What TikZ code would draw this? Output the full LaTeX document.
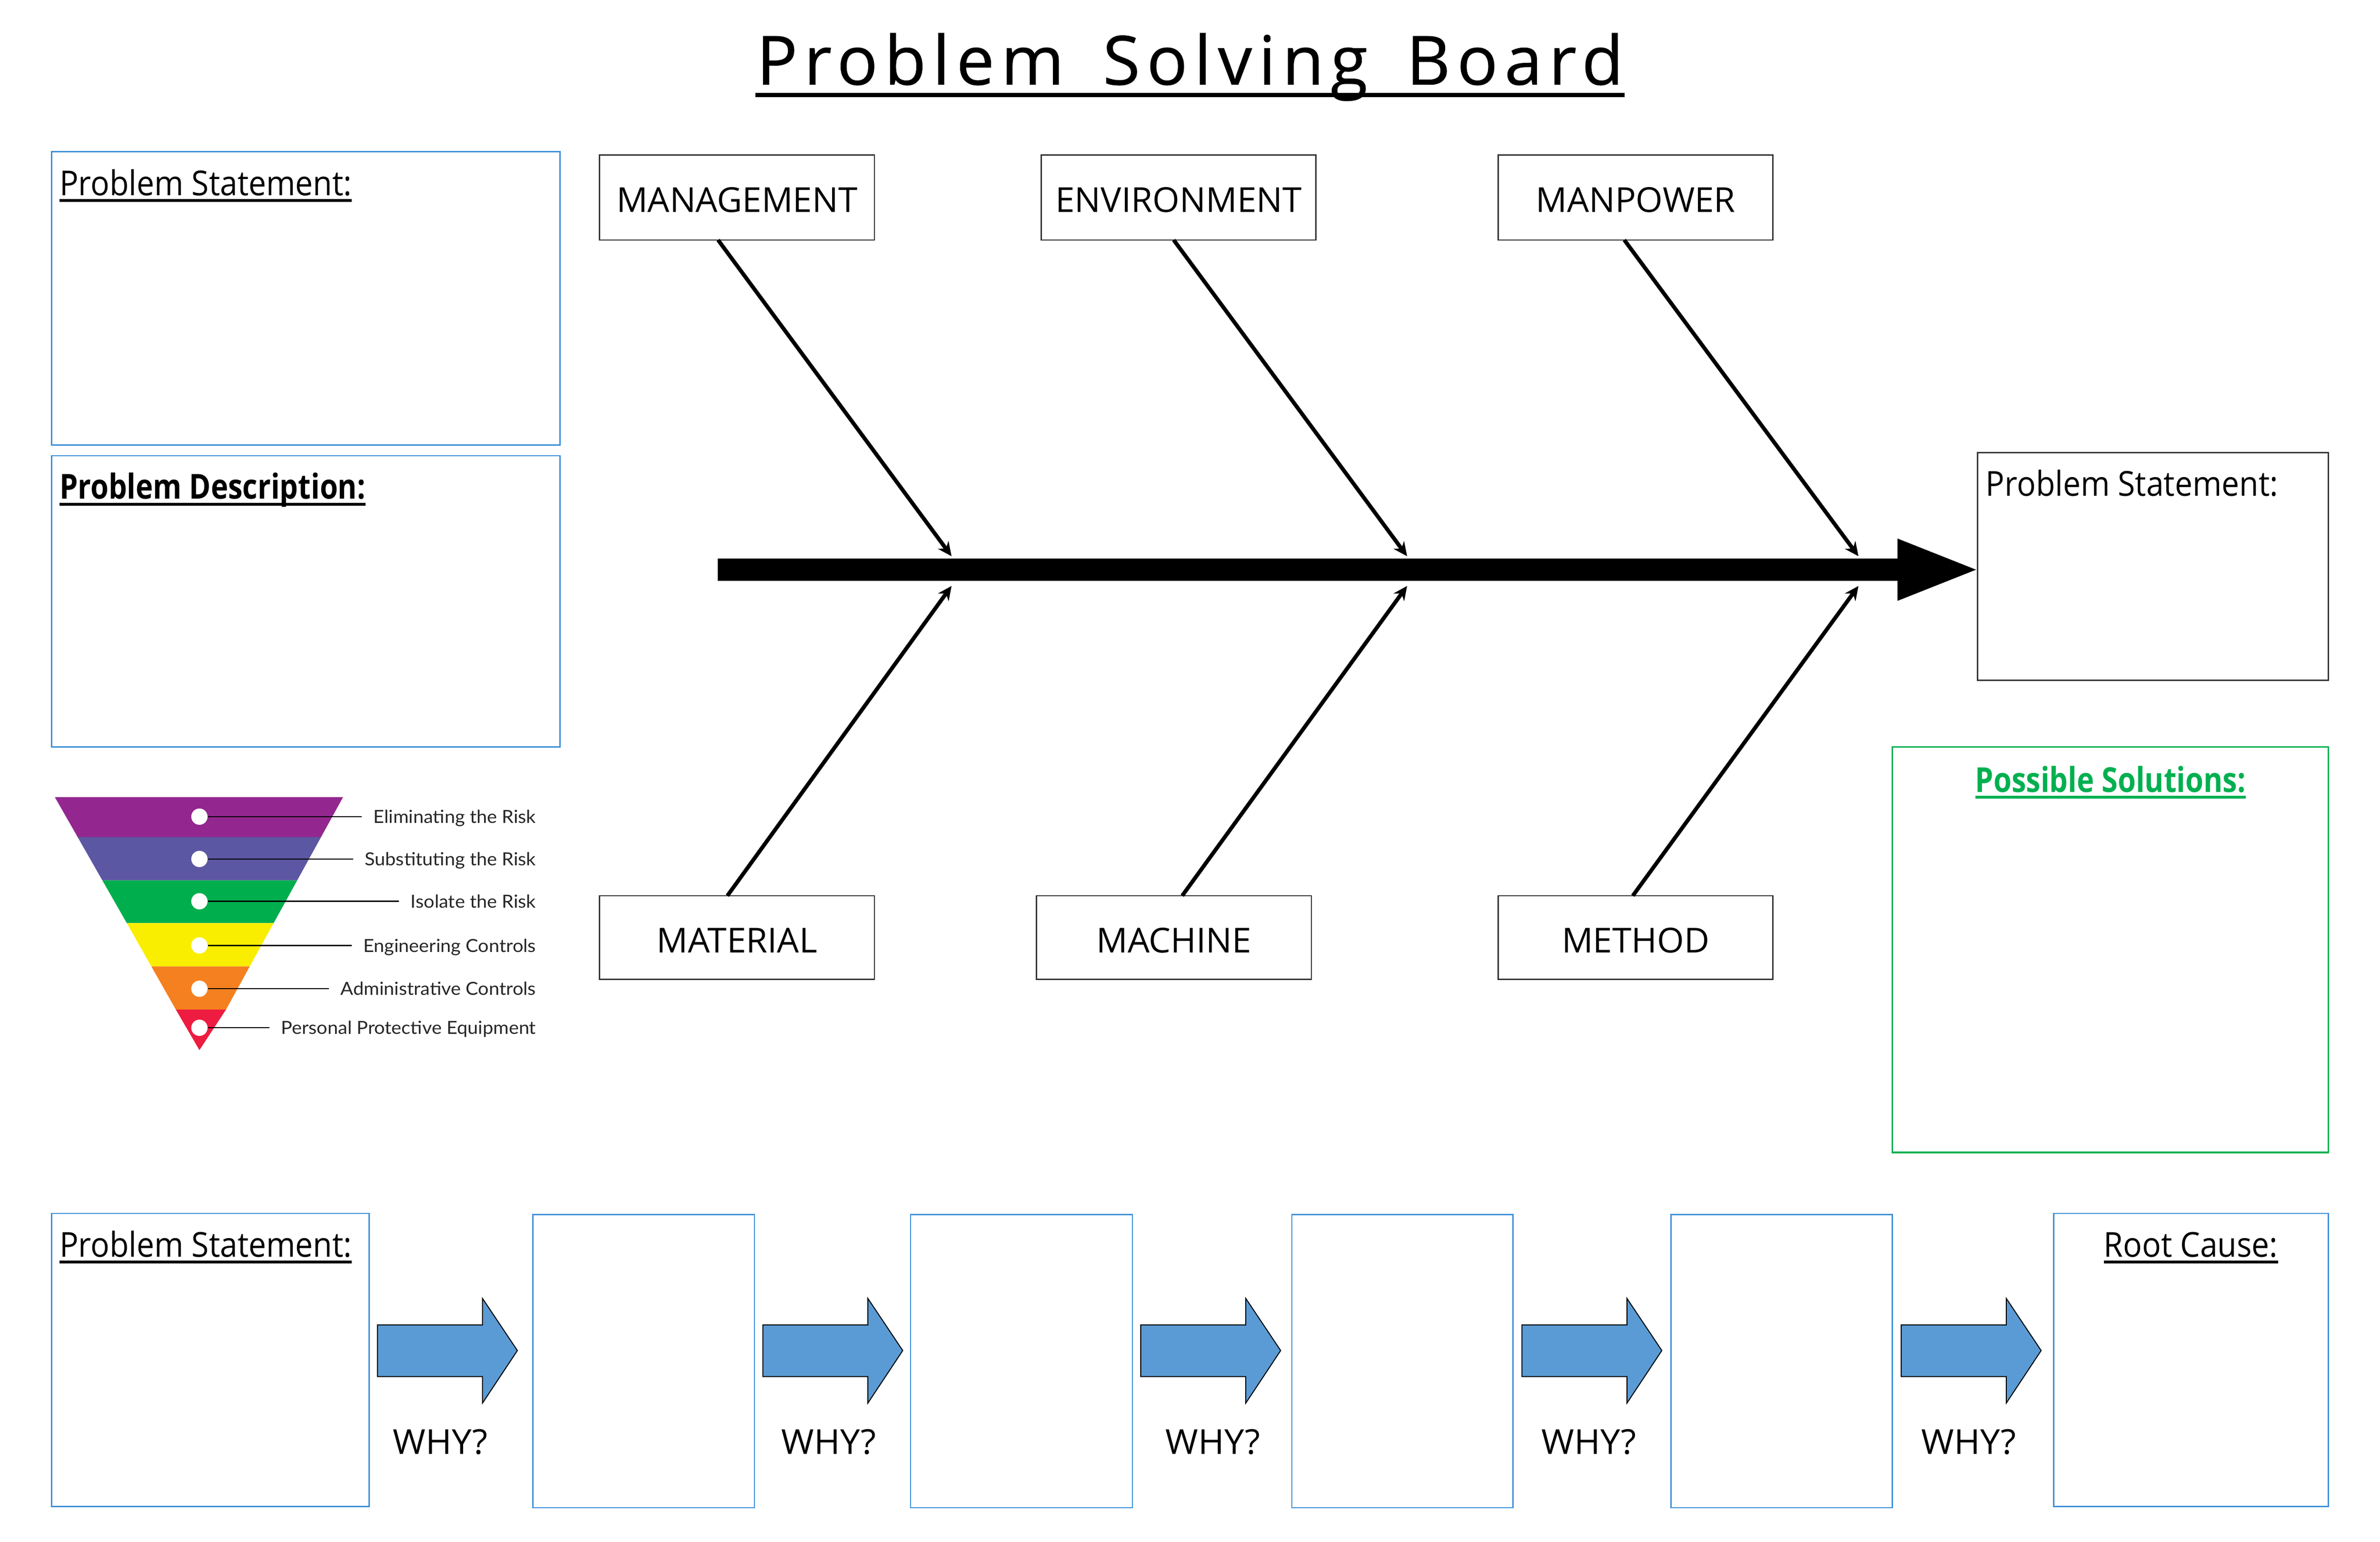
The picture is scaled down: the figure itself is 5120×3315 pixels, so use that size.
\documentclass[tikz,border=0pt]{standalone}
\usepackage{fontspec}
\setmainfont{Open Sans}
\newfontfamily\titlefont[LetterSpace=9.7,FakeBold=0.6,WordSpace=1.6]{Open Sans}
\newfontfamily\lblfont[FakeStretch=0.915]{Open Sans}
\newfontfamily\lblbold[FakeStretch=0.85]{Open Sans}
\newfontfamily\capsfont[FakeStretch=1.01]{Open Sans}
\newfontfamily\whyfont[FakeStretch=1.03]{Open Sans}
\newfontfamily\riskfont[FakeStretch=1.05]{Lato}
\usetikzlibrary{arrows.meta,calc}
\definecolor{boxline}{HTML}{3B8FD9}
\definecolor{boxblue}{HTML}{5B9BD5}
\definecolor{solgreen}{HTML}{00B050}
\definecolor{bandA}{HTML}{93278F}
\definecolor{bandB}{HTML}{5C57A2}
\definecolor{bandC}{HTML}{00AE4D}
\definecolor{bandD}{HTML}{F9EE00}
\definecolor{bandE}{HTML}{F58020}
\definecolor{bandF}{HTML}{ED1C40}
\newcommand{\bx}[7]{%
  \pgfmathsetmacro\wbx{(#5-#3)*0.01}\pgfmathsetmacro\hbx{(#6-#4)*0.01}%
  \node[#1,anchor=north west,minimum width=\wbx cm,minimum height=\hbx cm] (#2) at (#3,#4) {\raisebox{-0.32cm}[0pt][0pt]{#7}};}
\newsavebox\ulbox
\newcommand{\ulx}[1]{\sbox\ulbox{#1}\rlap{\rule[-0.14cm]{\wd\ulbox}{0.06cm}}\usebox\ulbox}
\tikzset{
  x=0.01cm,y=-0.01cm,
  bluebox/.style={draw=boxline,line width=0.8pt,inner sep=0pt,outer sep=0pt},
  blackbox/.style={draw=black!80,line width=0.8pt,inner sep=0pt,outer sep=0pt},
  greenbox/.style={draw=solgreen,line width=0.9pt,inner sep=0pt,outer sep=0pt},
  catbox/.style={blackbox,font=\capsfont\fontsize{21}{25}\selectfont},
  txt/.style={inner sep=0pt,outer sep=0pt,font=\lblfont\fontsize{21}{25}\selectfont},
  btxt/.style={inner sep=0pt,outer sep=0pt,font=\lblbold\bfseries\fontsize{21}{25}\selectfont},
  whytxt/.style={inner sep=0pt,outer sep=0pt,font=\whyfont\fontsize{21}{25}\selectfont},
  bone/.style={line width=2.4pt,black,-{Stealth[length=0.3cm,width=0.28cm]}},
  why/.style={draw=black,fill=boxblue,line width=0.6pt},
  leader/.style={line width=0.7pt,black},
  dot/.style={circle,fill=white,inner sep=0pt,minimum size=0.35cm},
  risk/.style={inner xsep=0.25cm,inner ysep=0pt,outer sep=0pt,anchor=base east,text=black!85,font=\riskfont\fontsize{11}{13}\selectfont},
}
\begin{document}
\begin{tikzpicture}
\useasboundingbox (0,0) rectangle (5120,3315);
\fill[white] (0,0) rectangle (5120,3315);
% title
\draw[line width=2.6pt] (1625,204.5) -- (3495,204.5);
\node[inner sep=0pt,outer sep=0pt,anchor=base,font=\titlefont\fontsize{41.5}{50}\selectfont] (title) at (2560,182) {Problem Solving Board};
% left boxes
\bx{bluebox}{ps}{111}{326}{1205}{957}{}
\node[txt,anchor=base west] (pst) at (128,420) {\ulx{Problem Statement:}};
\bx{bluebox}{pd}{111}{980}{1205}{1606}{}
\node[btxt,anchor=base west] (pdt) at (128,1073) {\ulx{Problem Description:}};
% category boxes
\bx{catbox}{mgmt}{1290}{333}{1881}{516}{MANAGEMENT}
\bx{catbox}{env}{2240}{333}{2831}{516}{ENVIRONMENT}
\bx{catbox}{manp}{3223}{333}{3814}{516}{MANPOWER}
\bx{catbox}{mat}{1290}{1926}{1881}{2106}{MATERIAL}
\bx{catbox}{mach}{2230}{1926}{2821}{2106}{MACHINE}
\bx{catbox}{meth}{3223}{1926}{3814}{2106}{METHOD}
% spine
\fill[black] (1544,1201) -- (4082,1201) -- (4082,1158) -- (4251,1225) -- (4082,1292) -- (4082,1249) -- (1544,1249) -- cycle;
\coordinate (t1) at (2047,1196);
\coordinate (t2) at (3027,1196);
\coordinate (t3) at (3998,1196);
\coordinate (b1) at (2047,1260);
\coordinate (b2) at (3027,1260);
\coordinate (b3) at (3998,1260);
\draw[bone] ($(mgmt.south west)!0.431!(mgmt.south east)$) -- (t1);
\draw[bone] ($(env.south west)!0.482!(env.south east)$) -- (t2);
\draw[bone] ($(manp.south west)!0.459!(manp.south east)$) -- (t3);
\draw[bone] ($(mat.north west)!0.465!(mat.north east)$) -- (b1);
\draw[bone] ($(mach.north west)!0.53!(mach.north east)$) -- (b2);
\draw[bone] ($(meth.north west)!0.49!(meth.north east)$) -- (b3);
% right boxes
\bx{blackbox}{rs}{4254}{973}{5009}{1463}{}
\node[txt,anchor=base west] (rst) at (4272,1067) {Problem Statement:};
\bx{greenbox}{sol}{4071}{1606}{5009}{2478}{}
\node[btxt,anchor=base,text=solgreen] (solt) at (4540,1703) {\ulx{Possible Solutions:}};
% pyramid
\fill[bandA] (118,1714) -- (738,1714) -- (690.6,1800) -- (167.1,1800) -- cycle;
\fill[bandB] (167.1,1800) -- (690.6,1800) -- (639.3,1893) -- (220.2,1893) -- cycle;
\fill[bandC] (220.2,1893) -- (639.3,1893) -- (588.6,1985) -- (272.9,1985) -- cycle;
\fill[bandD] (272.9,1985) -- (588.6,1985) -- (537.3,2078) -- (325.6,2078) -- cycle;
\fill[bandE] (325.6,2078) -- (537.3,2078) -- (486.1,2171) -- (378.4,2171) -- cycle;
\fill[bandF] (378.4,2171) -- (486.1,2171) -- (429,2258) -- cycle;
\foreach \n/\y/\t in {1/1756/Eliminating the Risk,2/1847/Substituting the Risk,3/1938/Isolate the Risk,4/2033/Engineering Controls,5/2126/Administrative Controls,6/2210/Personal Protective Equipment}{
  \node[dot] (d\n) at (429,\y) {};
  \node[risk] (r\n) at (1178,\y+14) {\t};
  \draw[leader] (d\n.east) -- (r\n.west |- d\n.east);
}
% bottom row
\bx{bluebox}{wa}{111}{2609}{794}{3239}{}
\node[txt,anchor=base west] (wat) at (128,2703) {\ulx{Problem Statement:}};
\bx{bluebox}{wb}{1146}{2612}{1623}{3242}{}
\bx{bluebox}{wc}{1959}{2612}{2436}{3242}{}
\bx{bluebox}{wd}{2779}{2612}{3255}{3242}{}
\bx{bluebox}{we}{3595}{2612}{4071}{3242}{}
\bx{bluebox}{wf}{4418}{2609}{5009}{3239}{}
\node[txt,anchor=base] (wft) at (4713,2703) {\ulx{Root Cause:}};
\foreach \n/\dx/\cx in {1/0/947,2/829/1783,3/1642/2609,4/2462/3418,5/3278/4235}{
  \draw[why,shift={(\dx,0)}] (812,2849) -- (1038,2849) -- (1038,2792) -- (1113,2904) -- (1038,3017) -- (1038,2960) -- (812,2960) -- cycle;
  \node[whytxt,anchor=base] (y\n) at (\cx,3127) {WHY?};
}
\end{tikzpicture}
\end{document}
